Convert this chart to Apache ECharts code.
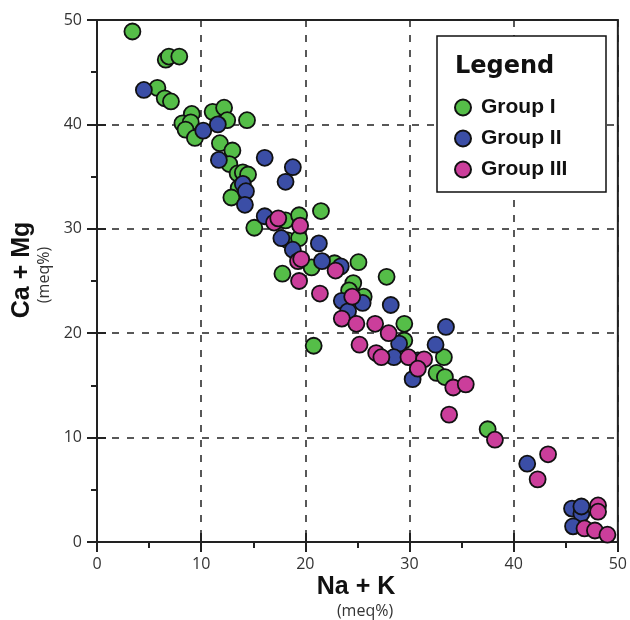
<!DOCTYPE html>
<html>
<head>
<meta charset="utf-8">
<script src="https://cdn.jsdelivr.net/npm/echarts@6/dist/echarts.min.js"></script>
<style>html,body{margin:0;padding:0;background:#fff}#c{width:630px;height:620px}</style>
</head>
<body>
<div id="c"></div>
<script>
var xTicks = [0, 10, 20, 30, 40, 50];
var yTicks = [0, 10, 20, 30, 40, 50];
var seriesNames = ['Group I', 'Group II', 'Group III'];

var groupI = [
  [3.4,48.9],[6.6,46.2],[6.9,46.5],[7.9,46.5],[5.8,43.5],[6.5,42.5],[7.1,42.2],
  [9.1,41.0],[8.2,40.1],[9.0,40.2],[8.5,39.5],[9.4,38.7],[11.1,41.2],[12.2,41.6],
  [12.5,40.4],[14.4,40.4],[11.8,38.2],[13.0,37.5],[12.7,36.2],[13.5,35.3],[14.0,35.4],
  [14.5,35.2],[13.6,33.9],[12.9,33.0],[21.5,31.7],[18.1,30.8],[19.4,31.3],[15.1,30.1],
  [18.3,28.9],[19.4,29.1],[20.6,26.3],[22.8,26.7],[25.1,26.8],[17.8,25.7],[24.6,24.8],
  [24.2,24.1],[25.6,23.5],[27.8,25.4],[29.5,20.9],[29.5,19.3],[20.8,18.8],[33.3,17.7],
  [32.6,16.2],[33.4,15.8],[37.5,10.8]
];
var groupII = [
  [4.5,43.3],[10.2,39.4],[11.6,40.0],[11.7,36.6],[16.1,36.8],[18.8,35.9],[18.1,34.5],
  [14.0,34.3],[14.3,33.6],[14.2,32.3],[16.1,31.2],[17.7,29.1],[18.8,28.0],[21.3,28.6],
  [21.6,26.9],[23.4,26.4],[23.5,23.1],[25.5,22.9],[24.1,22.1],[28.2,22.7],[33.5,20.6],
  [29.0,19.0],[28.5,17.7],[30.8,17.4],[30.3,15.6],[32.5,18.9],[41.3,7.5],[45.6,3.2],
  [46.5,2.7],[46.5,3.4],[45.7,1.5]
];
var groupIII = [
  [17.0,30.6],[17.4,31.0],[19.5,30.3],[19.3,26.9],[19.6,27.1],[22.9,26.0],[19.4,25.0],
  [21.4,23.8],[24.5,23.5],[23.5,21.4],[24.9,20.9],[26.7,20.9],[28.0,20.0],[25.2,18.9],
  [26.8,18.1],[27.3,17.7],[29.9,17.7],[31.4,17.5],[30.8,16.6],[34.2,14.8],[35.4,15.1],
  [33.8,12.2],[38.2,9.8],[43.3,8.4],[42.3,6.0],[48.1,3.5],[48.1,2.9],[46.8,1.3],
  [47.8,1.1],[49.0,0.7]
];

var colors = ['#55BE48', '#3B4EA6', '#CB3E9B'];

var chart = echarts.init(document.getElementById('c'), null, {renderer: 'canvas'});

function baseAxis(ticks, extra) {
  var a = {
    type: 'value',
    min: ticks[0],
    max: ticks[ticks.length - 1],
    interval: ticks[1] - ticks[0]
  };
  for (var k in extra) a[k] = extra[k];
  return a;
}

var splitStyle = {show: true, lineStyle: {color: '#222', width: 1.5, type: [7, 8]}};

var option = {
  animation: false,
  grid: {left: 97, right: 10, top: 20, bottom: 78, show: true, borderColor: '#222', borderWidth: 2, backgroundColor: 'transparent'},
  xAxis: [
    baseAxis(xTicks, {
      position: 'bottom',
      axisLine: {show: true, lineStyle: {color: '#222', width: 2}},
      axisTick: {show: true, length: 10, lineStyle: {color: '#222', width: 2}},
      minorTick: {show: true, splitNumber: 2, length: 6, lineStyle: {color: '#222', width: 2}},
      axisLabel: {show: true, margin: 14, color: '#333', fontSize: 16, fontFamily: 'Open Sans'},
      splitLine: splitStyle
    }),
    baseAxis(xTicks, {
      position: 'bottom',
      axisLine: {show: false},
      axisTick: {show: true, inside: true, length: 9, lineStyle: {color: '#222', width: 2}},
      axisLabel: {show: false},
      splitLine: {show: false}
    })
  ],
  yAxis: [
    baseAxis(yTicks, {
      position: 'left',
      axisLine: {show: true, lineStyle: {color: '#222', width: 2}},
      axisTick: {show: true, length: 10, lineStyle: {color: '#222', width: 2}},
      minorTick: {show: true, splitNumber: 2, length: 6, lineStyle: {color: '#222', width: 2}},
      axisLabel: {show: true, margin: 15, color: '#333', fontSize: 16, fontFamily: 'Open Sans'},
      splitLine: splitStyle
    }),
    baseAxis(yTicks, {
      position: 'left',
      axisLine: {show: false},
      axisTick: {show: true, inside: true, length: 9, lineStyle: {color: '#222', width: 2}},
      axisLabel: {show: false},
      splitLine: {show: false}
    })
  ],
  legend: {
    show: true,
    orient: 'vertical',
    left: 454,
    top: 97,
    padding: 0,
    itemWidth: 16,
    itemHeight: 16,
    itemGap: 10,
    icon: 'circle',
    z: 10,
    data: seriesNames,
    textStyle: {color: '#111', fontSize: 21, fontWeight: 'bold', fontFamily: 'Liberation Sans', lineHeight: 21, padding: [0, 0, 0, 5]}
  },
  graphic: [
    {type: 'rect', z: 5, shape: {x: 437, y: 36, width: 169, height: 156},
     style: {fill: '#fff', stroke: '#111', lineWidth: 1.5}},
    {type: 'text', z: 6, x: 455, y: 67,
     style: {text: 'Legend', fill: '#111', font: 'bold 24px "DejaVu Sans"', textAlign: 'left', textVerticalAlign: 'middle', verticalAlign: 'middle'}},
    {type: 'text', z: 6, x: 22, y: 270, rotation: Math.PI / 2,
     style: {text: 'Ca + Mg', fill: '#111', font: 'bold 25px "Liberation Sans"', textAlign: 'center', textVerticalAlign: 'middle', verticalAlign: 'middle'}},
    {type: 'text', z: 6, x: 44, y: 275, rotation: Math.PI / 2,
     style: {text: '(meq%)', fill: '#333', font: '16px "Open Sans"', textAlign: 'center', textVerticalAlign: 'middle', verticalAlign: 'middle'}},
    {type: 'text', z: 6, x: 356, y: 587,
     style: {text: 'Na + K', fill: '#111', font: 'bold 25px "Liberation Sans"', textAlign: 'center', textVerticalAlign: 'middle', verticalAlign: 'middle'}},
    {type: 'text', z: 6, x: 365, y: 611,
     style: {text: '(meq%)', fill: '#333', font: '16px "Open Sans"', textAlign: 'center', textVerticalAlign: 'middle', verticalAlign: 'middle'}}
  ],
  series: [
    {name: seriesNames[0], type: 'scatter', data: groupI, symbolSize: 16,
     itemStyle: {color: colors[0], borderColor: '#111', borderWidth: 1.8, opacity: 1}},
    {name: seriesNames[1], type: 'scatter', data: groupII, symbolSize: 16,
     itemStyle: {color: colors[1], borderColor: '#111', borderWidth: 1.8, opacity: 1}},
    {name: seriesNames[2], type: 'scatter', data: groupIII, symbolSize: 16,
     itemStyle: {color: colors[2], borderColor: '#111', borderWidth: 1.8, opacity: 1}}
  ]
};
chart.setOption(option);
</script>
</body>
</html>
